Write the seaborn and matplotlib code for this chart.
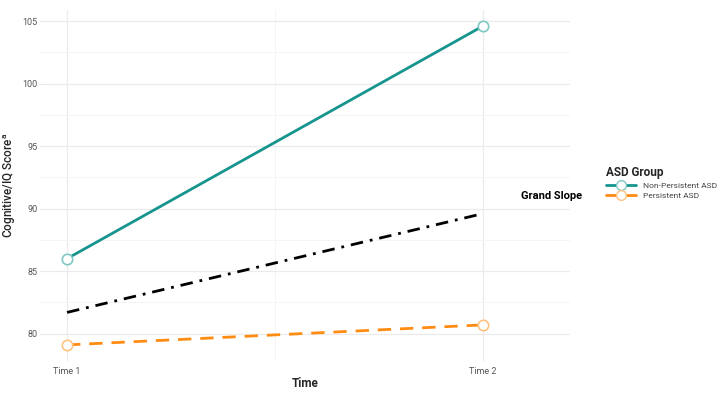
import matplotlib
matplotlib.use("Agg")
import matplotlib.pyplot as plt
import seaborn as sns
import pandas as pd
from matplotlib.lines import Line2D
from matplotlib.ticker import MultipleLocator

times = [1, 2]
time_labels = ["Time 1", "Time 2"]
non_persistent = [86.0, 104.6]
persistent = [79.1, 80.7]
grand_slope = [81.7, 89.6]
groups = ["Non-Persistent ASD", "Persistent ASD"]

sns.set_theme(style="white")
plt.rcParams['font.family'] = ['Roboto', 'DejaVu Sans']

df = pd.DataFrame({
    "time": times * 2,
    "score": non_persistent + persistent,
    "group": [groups[0]] * 2 + [groups[1]] * 2,
})
gs = pd.DataFrame({"time": times, "score": grand_slope})

teal = "#16948e"
orange = "#ff8c12"
teal_light = "#7fc8c3"
orange_light = "#ffc37f"
LW = 2.0

fig = plt.figure(figsize=(7.28, 3.96), dpi=100)
ax = fig.add_axes([0.055, 0.088, 0.728, 0.887])

# grid
ax.set_axisbelow(True)
ax.yaxis.set_major_locator(MultipleLocator(5))
ax.yaxis.set_minor_locator(MultipleLocator(2.5))
ax.xaxis.set_major_locator(MultipleLocator(1))
ax.xaxis.set_minor_locator(MultipleLocator(0.5))
ax.grid(which="major", color="#ebebeb", linewidth=0.9)
ax.grid(which="minor", color="#f4f4f4", linewidth=0.6)

sns.lineplot(data=gs, x="time", y="score", ax=ax, color="black",
             linewidth=LW, legend=False)
ax.lines[-1].set_dashes([4.5, 2.5, 1.0, 2.5])

for g, col, lcol, dash in [(groups[0], teal, teal_light, None),
                           (groups[1], orange, orange_light, [4.8, 3.2])]:
    sub = df[df["group"] == g]
    sns.lineplot(data=sub, x="time", y="score", ax=ax, color=col,
                 linewidth=LW, legend=False)
    if dash:
        ax.lines[-1].set_dashes(dash)
    ax.plot(sub["time"], sub["score"], linestyle="none", marker="o",
            markersize=7.5, markerfacecolor="white", markeredgecolor=lcol,
            markeredgewidth=1.2, zorder=5)

ax.text(2.165, 91.0, "Grand Slope", fontsize=8, fontweight="bold",
        ha="center", va="center", color="black")

ax.set_xlim(0.935, 2.21)
ax.set_ylim(77.8, 105.9)
ax.set_xticks(times)
ax.set_xticklabels(time_labels)
ax.tick_params(axis="both", which="both", length=0, labelsize=6.5,
               labelcolor="#555555")
ax.tick_params(axis="y", pad=2)
ax.tick_params(axis="x", pad=4)
for s in ax.spines.values():
    s.set_visible(False)

ax.set_xlabel("Time", fontsize=8.5, fontweight="bold", labelpad=1)
ax.set_ylabel("Cognitive/IQ Score$^{\\mathregular{a}}$", fontsize=8.5,
              fontweight="medium")
ax.yaxis.set_label_coords(-0.042, 0.5)

handles = [
    Line2D([], [], color=teal, linewidth=LW, marker="o", markersize=7,
           markerfacecolor="white", markeredgecolor=teal_light),
    Line2D([], [], color=orange, linewidth=LW, marker="o", markersize=7,
           markerfacecolor="white", markeredgecolor=orange_light),
]
leg = fig.legend(handles, groups, title="ASD Group", loc="upper left",
                 bbox_to_anchor=(0.825, 0.595), frameon=False, fontsize=6.0,
                 title_fontproperties={"weight": "bold", "size": 8.5},
                 handlelength=3.5, labelspacing=0.35,
                 handletextpad=0.9, borderpad=0.2)
leg._legend_box.align = "left"
for t in leg.get_texts():
    t.set_color("#444444")

fig.savefig("out.png", dpi=100)
